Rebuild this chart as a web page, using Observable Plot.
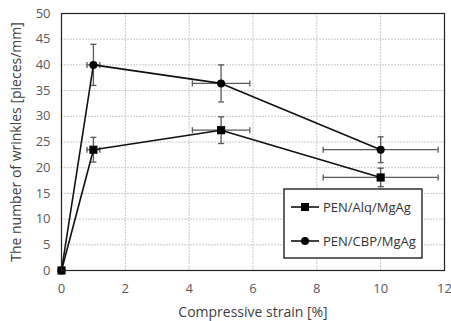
<!DOCTYPE html>
<html><head><meta charset="utf-8">
<script src="https://cdn.jsdelivr.net/npm/d3@7"></script>
<script src="https://cdn.jsdelivr.net/npm/@observablehq/plot@0.6"></script>
<style>body{margin:0;background:#fff}svg{font-family:"Open Sans",sans-serif}</style>
</head><body><div id="chart"></div>
<script>
const strain = [0, 1, 5, 10];
const strainErr = [0, 0.2, 0.9, 1.8];
const alq = [0, 23.5, 27.3, 18.1];
const alqErr = [0, 2.4, 2.6, 1.8];
const cbp = [0, 40, 36.4, 23.5];
const cbpErr = [0, 4, 3.6, 2.5];
const seriesNames = ["PEN/Alq/MgAg", "PEN/CBP/MgAg"];
const xTicks = [0, 2, 4, 6, 8, 10, 12];
const yTicks = [0, 5, 10, 15, 20, 25, 30, 35, 40, 45, 50];

const rows = [];
[[alq, alqErr, seriesNames[0]], [cbp, cbpErr, seriesNames[1]]].forEach(([v, e, s]) => {
  strain.forEach((x, i) => rows.push({series: s, x, y: v[i], ex: strainErr[i], ey: e[i]}));
});
const errRows = rows.filter(d => d.x > 0);
const hcap = {draw(ctx, size){const w = Math.sqrt(size); ctx.moveTo(-w/2, 0); ctx.lineTo(w/2, 0);}};
const vcap = {draw(ctx, size){const w = Math.sqrt(size); ctx.moveTo(0, -w/2); ctx.lineTo(0, w/2);}};
const errColor = "#595959";

const plot = Plot.plot({
  width: 451, height: 321,
  marginLeft: 61, marginRight: 7, marginTop: 13, marginBottom: 51,
  style: {fontSize: "13px", fontFamily: "Open Sans, sans-serif", color: "#595959"},
  x: {domain: [0, 12], ticks: xTicks, tickSize: 0, tickPadding: 13, label: null},
  y: {domain: [0, 50], ticks: yTicks, tickSize: 0, tickPadding: 11, label: null},
  marks: [
    Plot.gridX(xTicks, {stroke: "#c8c8c8", strokeOpacity: 1, strokeDasharray: "2,1"}),
    Plot.gridY(yTicks, {stroke: "#c8c8c8", strokeOpacity: 1, strokeDasharray: "2,1"}),
    Plot.axisX({ticks: xTicks, tickSize: 0, tickPadding: 13, label: "Compressive strain [%]", labelAnchor: "center", labelArrow: "none", labelOffset: 46, fill: "#595959"}),
    Plot.axisY({ticks: yTicks, tickSize: 0, tickPadding: 11, label: "The number of wrinkles [pieces/mm]", labelAnchor: "center", labelArrow: "none", labelOffset: 50, fill: "#595959"}),
    Plot.ruleX(errRows, {x: "x", y1: d => d.y - d.ey, y2: d => d.y + d.ey, stroke: errColor, strokeWidth: 1.3}),
    Plot.ruleY(errRows, {y: "y", x1: d => d.x - d.ex, x2: d => d.x + d.ex, stroke: errColor, strokeWidth: 1.3}),
    Plot.dot(errRows, {x: "x", y: d => d.y - d.ey, symbol: hcap, r: 3.4, stroke: errColor, strokeWidth: 1.3, fill: "none"}),
    Plot.dot(errRows, {x: "x", y: d => d.y + d.ey, symbol: hcap, r: 3.4, stroke: errColor, strokeWidth: 1.3, fill: "none"}),
    Plot.dot(errRows, {x: d => d.x - d.ex, y: "y", symbol: vcap, r: 3.4, stroke: errColor, strokeWidth: 1.3, fill: "none"}),
    Plot.dot(errRows, {x: d => d.x + d.ex, y: "y", symbol: vcap, r: 3.4, stroke: errColor, strokeWidth: 1.3, fill: "none"}),
    Plot.line(rows, {x: "x", y: "y", z: "series", stroke: "#111", strokeWidth: 1.6}),
    Plot.dot(rows.filter(d => d.series === seriesNames[0]), {x: "x", y: "y", symbol: "square", r: 4.6, fill: "#000", stroke: "none"}),
    Plot.dot(rows.filter(d => d.series === seriesNames[1]), {x: "x", y: "y", symbol: "circle", r: 4, fill: "#000", stroke: "none"}),
    Plot.frame({stroke: "#222", strokeWidth: 1.2})
  ]
});
document.getElementById("chart").appendChild(plot);
// axis titles slightly larger and darker
d3.select(plot).selectAll("g[aria-label='x-axis label'] text, g[aria-label='y-axis label'] text")
  .attr("font-size", 14).attr("fill", "#404040");

// legend inside the plot
const svg = d3.select(plot);
const g = svg.append("g").attr("text-anchor", "start");
g.append("rect").attr("x", 284).attr("y", 189).attr("width", 138).attr("height", 69)
  .attr("fill", "#fff").attr("stroke", "#111").attr("stroke-width", 1.3);
[[seriesNames[0], "square", 207], [seriesNames[1], "circle", 241]].forEach(([name, sym, yy]) => {
  g.append("line").attr("x1", 291).attr("x2", 319).attr("y1", yy).attr("y2", yy).attr("stroke", "#111").attr("stroke-width", 1.6);
  if (sym === "square") g.append("rect").attr("x", 301).attr("y", yy - 4).attr("width", 8).attr("height", 8).attr("fill", "#000");
  else g.append("circle").attr("cx", 305).attr("cy", yy).attr("r", 4).attr("fill", "#000");
  g.append("text").attr("x", 323).attr("y", yy).attr("dy", "0.35em").attr("font-size", 13).attr("fill", "#333").text(name);
});
</script></body></html>
